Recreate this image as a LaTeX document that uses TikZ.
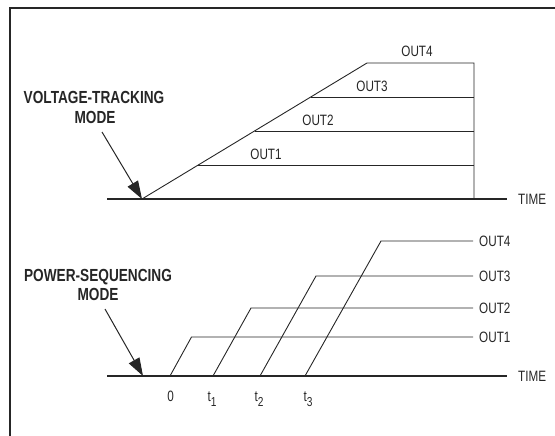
\documentclass[tikz,border=0pt]{standalone}
\usepackage{fontspec}
\newfontfamily\condfont[FakeStretch=0.78]{Liberation Sans}
\usetikzlibrary{arrows.meta}
\newcommand\sbs[1]{\raisebox{-0.3em}{\fontsize{13}{13}\selectfont #1}}
\begin{document}
\begin{tikzpicture}[x=1pt,y=-1pt,
  lbl/.style={font=\condfont\fontsize{15}{15}\selectfont, inner sep=0pt, text=black!85},
  modetxt/.style={font=\condfont\bfseries\fontsize{17.5}{17.5}\selectfont, inner sep=0pt, anchor=base, text=black!85},
  wire/.style={line width=0.9pt, black!85},
  axisline/.style={line width=1.4pt, black!85},
  pointer/.style={line width=1pt, black!85, -{Triangle[length=18pt,width=12pt]}}]
\useasboundingbox (0,0) rectangle (555,436);
\begin{scope}
\clip (0,0) rectangle (555,436);
\draw[line width=2.5pt, black!85] (10,8) rectangle (620,520);
\end{scope}

% ---------- voltage-tracking mode ----------
\coordinate (ta0) at (107,199);
\coordinate (ta1) at (507,199);
\coordinate (r0) at (142,199);
\coordinate (r4) at (367,63);
\coordinate (v4) at (474,63);
\coordinate (v0) at (474,199);
\coordinate (r3) at (311,97);
\coordinate (v3) at (474,97);
\coordinate (r2) at (254.5,131);
\coordinate (v2) at (474,131);
\coordinate (r1) at (198,165);
\coordinate (v1) at (474,165);

\draw[axisline] (ta0) -- (ta1);
\draw[wire] (r0) -- (r4) -- (v4) -- (v0);
\draw[wire] (r3) -- (v3);
\draw[wire] (r2) -- (v2);
\draw[wire] (r1) -- (v1);

\node[lbl, anchor=base] (tl4) at (417,57) {OUT4};
\node[lbl, anchor=base] (tl3) at (372,92) {OUT3};
\node[lbl, anchor=base] (tl2) at (318,125) {OUT2};
\node[lbl, anchor=base] (tl1) at (266,159) {OUT1};
\node[lbl, anchor=west] (time1) at (518,199) {TIME};

\node[modetxt] (vt1) at (94,103) {VOLTAGE-TRACKING};
\node[modetxt] (vt2) at (95,124) {MODE};
\coordinate (m1) at (102,132);
\draw[pointer] (m1) -- (r0);

% ---------- power-sequencing mode ----------
\coordinate (ba0) at (107,376);
\coordinate (ba1) at (507,376);
\coordinate (s1) at (170,376);
\coordinate (u1) at (191.5,337);
\coordinate (e1) at (473,337);
\coordinate (s2) at (213,376);
\coordinate (u2) at (251,308);
\coordinate (e2) at (473,308);
\coordinate (s3) at (260,376);
\coordinate (u3) at (316,276);
\coordinate (e3) at (473,276);
\coordinate (s4) at (305,376);
\coordinate (u4) at (381,241);
\coordinate (e4) at (473,241);

\draw[axisline] (ba0) -- (ba1);
\draw[wire] (s1) -- (u1) -- (e1);
\draw[wire] (s2) -- (u2) -- (e2);
\draw[wire] (s3) -- (u3) -- (e3);
\draw[wire] (s4) -- (u4) -- (e4);

\node[lbl, anchor=west] (bl4) at (479,241) {OUT4};
\node[lbl, anchor=west] (bl3) at (479,276) {OUT3};
\node[lbl, anchor=west] (bl2) at (479,308) {OUT2};
\node[lbl, anchor=west] (bl1) at (479,337) {OUT1};
\node[lbl, anchor=west] (time2) at (518,376) {TIME};

\node[lbl, anchor=base] (k0) at (170.7,401.5) {0};
\node[lbl, anchor=base] (k1) at (212,401.5) {t\sbs{1}};
\node[lbl, anchor=base] (k2) at (259,401.5) {t\sbs{2}};
\node[lbl, anchor=base] (k3) at (308,401.5) {t\sbs{3}};

\node[modetxt] (ps1) at (98,281) {POWER-SEQUENCING};
\node[modetxt] (ps2) at (98,300) {MODE};
\coordinate (m2) at (105,309);
\draw[pointer] (m2) -- (s1 -| 143,0);
\end{tikzpicture}
\end{document}
